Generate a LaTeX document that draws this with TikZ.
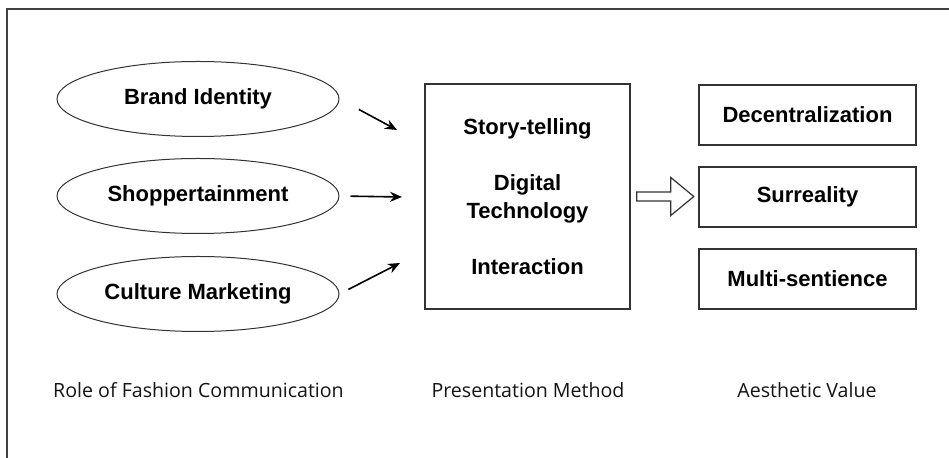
\documentclass[tikz,border=0pt]{standalone}
\usepackage{fontspec}
\setmainfont{Liberation Sans}
\newfontfamily\captionfont{Open Sans}
\usetikzlibrary{arrows.meta,shapes.geometric}
\begin{document}
\begin{tikzpicture}[x=0.5pt,y=-0.5pt,
        role/.style={ellipse,draw=black!80,line width=0.5pt,minimum width=141pt,minimum height=37.5pt,
            inner sep=0pt,font=\bfseries\fontsize{11}{13}\selectfont},
        method/.style={rectangle,draw=black!80,line width=0.8pt,minimum width=102.5pt,minimum height=112.5pt,
            align=center,font=\bfseries\fontsize{11}{14}\selectfont},
        value/.style={rectangle,draw=black!80,line width=0.8pt,minimum width=108.5pt,minimum height=30pt,
            font=\bfseries\fontsize{11}{13}\selectfont},
        caption/.style={font=\captionfont\fontsize{9.8}{12}\selectfont,text=black!92},
        feed/.style={line width=0.8pt,-{Stealth[length=6pt,width=5pt]}},
        hollow/.style={draw=black!80,line width=0.6pt,fill=white}]
    \useasboundingbox (0,0) rectangle (949,458);
    \draw[black!75,line width=1pt] (7,458) -- (7,9) -- (949,9);

    \node[role] (bi) at (198,99) {Brand Identity};
    \node[role] (sh) at (198,196) {Shoppertainment};
    \node[role] (cm) at (198,294) {Culture Marketing};

    \node[method] (pm) at (527.5,196.5) {Story-telling\\[14pt]Digital\\Technology\\[14pt]Interaction};

    \node[value] (dc) at (807.5,115) {Decentralization};
    \node[value] (sr) at (807.5,197) {Surreality};
    \node[value] (ms) at (807.5,279) {Multi-sentience};

    \coordinate (t1) at (397,130);
    \coordinate (t2) at (402,197);
    \coordinate (t3) at (400,263);
    \draw[feed,shorten <=11pt] (bi.east) -- (t1);
    \draw[feed,shorten <=5.5pt] (sh.east) -- (t2);
    \draw[feed,shorten <=5pt] (cm.east) -- (t3);

    \draw[hollow] (pm.east) ++(6,-4.5) -- ++(34,0) -- ++(0,-14.5) -- ++(23,19)
        -- ++(-23,19) -- ++(0,-14.5) -- ++(-34,0) -- cycle;

    \node[caption] (r1) at (198.5,390) {Role of Fashion Communication};
    \node[caption] (r2) at (528,390) {Presentation Method};
    \node[caption] (r3) at (807,390) {Aesthetic Value};
\end{tikzpicture}
\end{document}
